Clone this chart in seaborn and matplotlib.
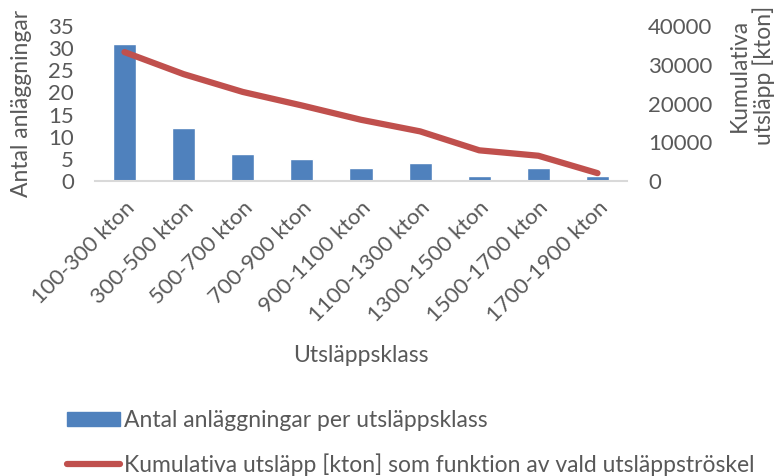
import matplotlib
matplotlib.use("Agg")
import matplotlib.pyplot as plt
import seaborn as sns
import pandas as pd
from matplotlib.lines import Line2D
from matplotlib.patches import Patch

classes = ["100-300 kton", "300-500 kton", "500-700 kton", "700-900 kton",
           "900-1100 kton", "1100-1300 kton", "1300-1500 kton",
           "1500-1700 kton", "1700-1900 kton"]
counts = [31, 12, 6, 5, 3, 4, 1, 3, 1]
cumulative = [33300, 27600, 23000, 19500, 15800, 12800, 7900, 6500, 2000]

bar_color = "#4f81bd"
line_color = "#c0504d"
text_color = "#595959"

sns.set_theme(style="white")
plt.rcParams["font.family"] = ["Lato", "DejaVu Sans"]
tick_fs = 16
label_fs = 16.5
legend_fs = 16.5

df = pd.DataFrame({"klass": classes, "antal": counts, "kum": cumulative})

fig = plt.figure(figsize=(7.78, 4.76), dpi=100)
ax = fig.add_axes([0.122, 0.62, 0.684, 0.325])
sns.barplot(data=df, x="klass", y="antal", color=bar_color, width=0.39,
            saturation=1, ax=ax)
ax.set_ylim(0, 35)
ax.set_yticks(range(0, 36, 5))
ax.set_xlim(-0.5, 8.5)

ax2 = ax.twinx()
sns.lineplot(x=list(range(len(classes))), y=df["kum"], color=line_color,
             linewidth=4.5, ax=ax2, solid_capstyle="round")
ax2.set_ylim(0, 40000)
ax2.set_yticks(range(0, 40001, 10000))

for a in (ax, ax2):
    for s in a.spines.values():
        s.set_visible(False)
    a.tick_params(length=0, colors=text_color, labelsize=tick_fs)
ax.spines["bottom"].set_visible(True)
ax.spines["bottom"].set_color("#d9d9d9")
ax.spines["bottom"].set_linewidth(1.5)

ax.set_xticks(range(len(classes)))
ax.set_xticklabels(classes, rotation=45, ha="right", rotation_mode="anchor",
                   fontsize=tick_fs, color=text_color)
ax.tick_params(axis="x", pad=12)
ax.tick_params(axis="y", pad=15)
ax2.tick_params(axis="y", pad=15)

ax.set_xlabel("Utsläppsklass", fontsize=label_fs, color=text_color, labelpad=14)
ax.set_ylabel("Antal anläggningar", fontsize=label_fs, color=text_color,
              labelpad=12)
ax2.set_ylabel("Kumulativa\nutsläpp [kton]", fontsize=label_fs,
               color=text_color, linespacing=1.15)
ax2.yaxis.label.set_va("center")
ax2.yaxis.set_label_coords(1.235, 0.68)

handles = [Patch(color=bar_color),
           Line2D([0], [0], color=line_color, linewidth=4.5,
                  solid_capstyle="round")]
labels = ["Antal anläggningar per utsläppsklass",
          "Kumulativa utsläpp [kton] som funktion av vald utsläppströskel"]
fig.legend(handles, labels, loc="lower left", bbox_to_anchor=(0.08, -0.009),
           borderaxespad=0.0, borderpad=0.2,
           frameon=False, fontsize=legend_fs, labelcolor=text_color,
           handlelength=2.3, handleheight=0.55, handletextpad=0.2,
           labelspacing=0.95)

fig.savefig("out.png", dpi=100)
